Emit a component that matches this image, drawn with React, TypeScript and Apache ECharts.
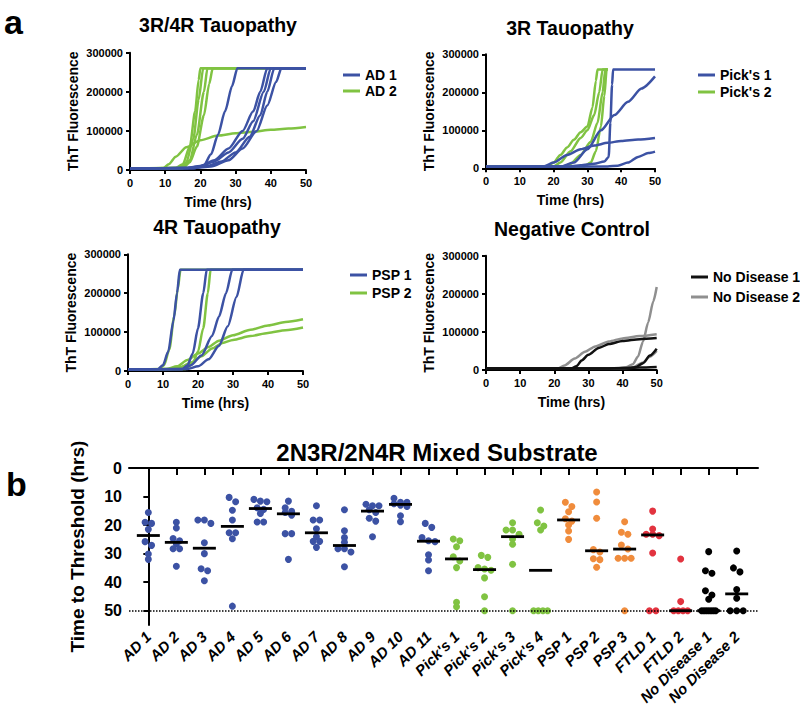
import React, { useEffect, useRef } from "react";
import * as echarts from "echarts";

const FONT = "'Liberation Sans', Arial, Helvetica, sans-serif";
const BLUE = "#3c52a4";
const GREEN = "#80c342";
const BLACK = "#111111";
const GRAY = "#8f8f8f";
const ORANGE = "#f08c3c";
const RED = "#e2333f";

// ---------- Panel a : ThT kinetics (time hrs, fluorescence) ----------
const AD1_CURVES: number[][][] = [
  [[0, 4000], [18, 4500], [21, 12000], [23, 40000], [25, 90000], [27, 150000], [29, 215000], [30.5, 260000], [50, 260000]],
  [[0, 4000], [16, 5000], [20, 10000], [24, 25000], [28, 55000], [32, 100000], [35, 150000], [37, 200000], [39, 260000], [50, 260000]],
  [[0, 4000], [16, 5000], [20, 9000], [24, 22000], [28, 45000], [32, 80000], [35, 125000], [38, 200000], [40, 260000], [50, 260000]],
  [[0, 4000], [18, 5000], [22, 10000], [26, 22000], [30, 45000], [34, 85000], [37, 140000], [39, 200000], [41, 260000], [50, 260000]],
  [[0, 4000], [18, 5000], [23, 9000], [28, 25000], [32, 55000], [36, 100000], [39, 165000], [41.5, 225000], [43, 260000], [50, 260000]],
];
const AD2_CURVES: number[][][] = [
  [[0, 4000], [13, 5000], [15, 15000], [17, 60000], [18.5, 150000], [19.5, 230000], [20, 260000], [50, 260000]],
  [[0, 4000], [14, 5000], [16, 20000], [18, 80000], [19.5, 180000], [20.8, 260000], [50, 260000]],
  [[0, 4000], [15, 5000], [17, 25000], [19, 90000], [21, 200000], [22, 260000], [50, 260000]],
  [[0, 4000], [15, 5000], [17, 20000], [19, 60000], [21, 140000], [22.5, 220000], [23.5, 260000], [50, 260000]],
  [[0, 4000], [9.5, 5000], [11, 15000], [13, 34000], [16, 58000], [20, 76000], [25, 88000], [30, 94000], [35, 98000], [40, 103000], [45, 106000], [50, 110000]],
];
const PICKS1_CURVES: number[][][] = [
  [[0, 4000], [24, 4500], [28, 8000], [32, 12000], [35, 18000], [36.3, 30000], [36.8, 120000], [37.3, 220000], [37.6, 260000], [50, 260000]],
  [[0, 4000], [22, 4500], [26, 15000], [30, 50000], [34, 100000], [38, 140000], [42, 175000], [46, 210000], [50, 242000]],
  [[0, 4000], [17, 5000], [20, 15000], [24, 35000], [28, 50000], [32, 60000], [36, 67000], [40, 72000], [45, 76000], [50, 80000]],
  [[0, 4000], [36, 4500], [39, 7000], [42, 15000], [45, 30000], [48, 40000], [50, 44000]],
];
const PICKS2_CURVES: number[][][] = [
  [[0, 4000], [18, 4500], [20, 15000], [22, 35000], [24, 55000], [26, 75000], [28, 95000], [30, 110000], [31.5, 160000], [32.5, 230000], [33, 260000], [36, 260000]],
  [[0, 4000], [20, 4500], [22, 15000], [25, 45000], [28, 80000], [30, 100000], [32, 140000], [33.5, 200000], [34.5, 260000], [36, 260000]],
  [[0, 4000], [23, 4500], [25, 12000], [28, 35000], [31, 70000], [33, 120000], [34.5, 200000], [35.3, 260000], [36, 260000]],
  [[0, 4000], [29, 4500], [31, 15000], [32.5, 45000], [34, 110000], [35, 190000], [35.7, 260000], [36, 260000]],
];
const PSP1_CURVES: number[][][] = [
  [[0, 4000], [8.5, 4500], [10, 15000], [11.5, 50000], [13, 130000], [14, 200000], [14.8, 260000], [50, 260000]],
  [[0, 4000], [15.5, 4500], [17, 15000], [18.5, 45000], [20, 110000], [21.5, 200000], [22.5, 260000], [50, 260000]],
  [[0, 4000], [15.5, 5000], [18, 15000], [21, 40000], [24, 90000], [26, 140000], [28, 200000], [29.8, 260000], [50, 260000]],
  [[0, 4000], [17, 5000], [20, 12000], [23, 30000], [26, 65000], [28.5, 115000], [31, 190000], [33, 260000], [50, 260000]],
];
const PSP2_CURVES: number[][][] = [
  [[0, 4000], [8.8, 4500], [10.3, 15000], [11.8, 55000], [13.2, 140000], [14.2, 210000], [15, 260000], [50, 260000]],
  [[0, 4000], [16.5, 5000], [18.5, 20000], [20, 50000], [21.5, 110000], [22.8, 200000], [23.6, 260000], [50, 260000]],
  [[0, 4000], [11, 5000], [14, 12000], [17, 28000], [20, 45000], [23, 62000], [26, 78000], [30, 92000], [35, 106000], [40, 117000], [45, 126000], [50, 133000]],
  [[0, 4000], [12, 5000], [15, 10000], [18, 22000], [21, 38000], [24, 58000], [27, 72000], [30, 80000], [35, 90000], [40, 98000], [45, 105000], [50, 112000]],
];
const ND1_CURVES: number[][][] = [
  [[0, 4000], [25, 4000], [26.5, 10000], [28, 25000], [30, 40000], [33, 58000], [36, 68000], [40, 76000], [45, 81000], [50, 84000]],
  [[0, 4000], [42, 4000], [44, 8000], [46, 18000], [48, 38000], [50, 56000]],
  [[0, 4000], [35, 4000], [40, 5000], [45, 6500], [50, 8000]],
];
const ND2_CURVES: number[][][] = [
  [[0, 4000], [21, 4000], [23, 12000], [26, 30000], [29, 48000], [32, 62000], [36, 75000], [40, 83000], [45, 89000], [50, 94000]],
  [[0, 4000], [38, 4000], [41, 7000], [43, 15000], [44.5, 35000], [46, 75000], [47.5, 125000], [49, 180000], [50, 218000]],
  [[0, 4000], [40, 4000], [43, 7000], [46, 20000], [48, 35000], [50, 50000]],
];

const TIME_TICKS = { min: 0, max: 50, interval: 10 };
const FLUOR_TICKS = { min: 0, max: 300000, interval: 100000 };

// ---------- Panel b : time to threshold ----------
const CATEGORIES = [
  "AD 1", "AD 2", "AD 3", "AD 4", "AD 5", "AD 6", "AD 7", "AD 8", "AD 9", "AD 10", "AD 11",
  "Pick's 1", "Pick's 2", "Pick's 3", "Pick's 4", "PSP 1", "PSP 2", "PSP 3",
  "FTLD 1", "FTLD 2", "No Disease 1", "No Disease 2",
];
const T_AD1 = [15.6, 19.0, 19.4, 21.5, 25.8, 27.1, 30.1, 32.0];
const T_AD2 = [19.0, 21.0, 24.7, 25.5, 26.6, 28.3, 28.3, 34.4];
const T_AD3 = [18.2, 18.2, 19.4, 26.2, 30.0, 35.3, 36.0, 39.5];
const T_AD4 = [10.3, 11.8, 14.8, 18.2, 22.7, 22.7, 24.8, 48.4];
const T_AD5 = [11.0, 11.6, 11.8, 13.9, 14.5, 15.9, 18.9, 18.9];
const T_AD6 = [11.6, 13.9, 15.2, 15.6, 16.5, 23.0, 23.0, 32.0];
const T_AD7 = [13.2, 18.2, 18.2, 21.3, 24.1, 25.7, 25.7, 27.8];
const T_AD8 = [14.6, 22.0, 24.4, 26.0, 28.3, 28.3, 29.4, 34.6];
const T_AD9 = [12.7, 13.2, 13.2, 14.6, 15.6, 17.6, 18.6, 24.1];
const T_AD10 = [10.6, 12.0, 12.0, 12.5, 13.0, 13.5, 16.7, 18.8];
const T_AD11 = [19.4, 20.8, 24.4, 25.5, 25.8, 30.4, 32.2, 36.0];
const T_PICKS1 = [24.9, 25.5, 27.6, 31.1, 32.6, 34.9, 47.0, 48.6];
const T_PICKS2 = [30.6, 31.3, 34.9, 35.4, 35.8, 38.5, 45.1, 50];
const T_PICKS3 = [19.2, 21.7, 21.7, 23.2, 24.9, 26.7, 33.7, 50];
const T_PICKS4 = [14.7, 19.2, 20.3, 21.7, 50, 50, 50, 50];
const T_PSP1 = [12.0, 13.5, 15.3, 17.8, 18.6, 20.0, 22.1, 25.0];
const T_PSP2 = [8.4, 11.9, 17.6, 28.6, 29.4, 31.8, 32.1, 34.8];
const T_PSP3 = [18.8, 22.5, 23.2, 27.0, 28.4, 31.6, 31.6, 31.6, 50];
const T_FTLD1 = [15.1, 21.4, 23.2, 23.2, 23.7, 29.8, 50, 50];
const T_FTLD2 = [31.9, 46.8, 50, 50, 50, 50];
const T_ND1 = [29.3, 36.0, 36.9, 43.0, 44.5, 46.0, 50, 50, 50, 50, 50, 50, 50];
const T_ND2 = [29.1, 35.0, 36.4, 42.6, 45.6, 50, 50, 50];
const THRESHOLD_CUTOFF = 50;
const THRESHOLD_TICKS = { min: 0, max: 55, interval: 10 };

const T_VALUES = [
  T_AD1, T_AD2, T_AD3, T_AD4, T_AD5, T_AD6, T_AD7, T_AD8, T_AD9, T_AD10, T_AD11,
  T_PICKS1, T_PICKS2, T_PICKS3, T_PICKS4, T_PSP1, T_PSP2, T_PSP3, T_FTLD1, T_FTLD2, T_ND1, T_ND2,
];
const GROUP_COLORS = CATEGORIES.map((c) =>
  c.startsWith("AD") ? BLUE : c.startsWith("Pick") ? GREEN : c.startsWith("PSP") ? ORANGE : c.startsWith("FTLD") ? RED : "#000000"
);

// ---------- layout ----------
const B_GRID = { left: 129, top: 468, width: 629, height: 157 };
const B_XMIN = -0.69;
const B_XMAX = 21.76;
const PX_X = B_GRID.width / (B_XMAX - B_XMIN);
const PX_Y = B_GRID.height / THRESHOLD_TICKS.max;
const DOT = 7;
const B_LABEL_GRID = {
  left: B_GRID.left + (0 - B_XMIN) * PX_X - PX_X / 2,
  top: B_GRID.top,
  width: PX_X * CATEGORIES.length,
  height: B_GRID.height,
};

function swarm(values: number[], idx: number): number[][] {
  const sorted = [...values].sort((a, b) => a - b);
  const bins: number[][] = [];
  for (const v of sorted) {
    const last = bins[bins.length - 1];
    if (last && (v - last[0]) * PX_Y < 4.5) last.push(v);
    else bins.push([v]);
  }
  const out: number[][] = [];
  for (const bin of bins) {
    const k = bin.length;
    const sp = k > 1 ? Math.min(6.5, 14 / (k - 1)) : 0;
    bin.forEach((v, i) => out.push([idx + ((i - (k - 1) / 2) * sp) / PX_X, v]));
  }
  return out;
}
function median(values: number[]): number {
  const s = [...values].sort((a, b) => a - b);
  const n = s.length;
  return n % 2 ? s[(n - 1) / 2] : (s[n / 2 - 1] + s[n / 2]) / 2;
}

const PANELS = [
  {
    title: "3R/4R Tauopathy", tx: 218, ty: 25,
    grid: { left: 130, top: 52.7, width: 176, height: 117.3 },
    legend: { left: 338, top: 63, gap: 2 },
    groups: [{ name: "AD 1", color: BLUE, curves: AD1_CURVES }, { name: "AD 2", color: GREEN, curves: AD2_CURVES }],
  },
  {
    title: "3R Tauopathy", tx: 570, ty: 27.7,
    grid: { left: 486, top: 54.3, width: 169, height: 114 },
    legend: { left: 693, top: 63, gap: 3 },
    groups: [{ name: "Pick's 1", color: BLUE, curves: PICKS1_CURVES }, { name: "Pick's 2", color: GREEN, curves: PICKS2_CURVES }],
  },
  {
    title: "4R Tauopathy", tx: 217, ty: 227,
    grid: { left: 128, top: 254.3, width: 175, height: 116.7 },
    legend: { left: 345, top: 263, gap: 4 },
    groups: [{ name: "PSP 1", color: BLUE, curves: PSP1_CURVES }, { name: "PSP 2", color: GREEN, curves: PSP2_CURVES }],
  },
  {
    title: "Negative Control", tx: 572, ty: 229,
    grid: { left: 486, top: 255.7, width: 170.7, height: 114.3 },
    legend: { left: 686, top: 265, gap: 6 },
    groups: [{ name: "No Disease 1", color: BLACK, curves: ND1_CURVES }, { name: "No Disease 2", color: GRAY, curves: ND2_CURVES }],
  },
];

function buildOption() {
  const bold = { fontFamily: FONT, fontWeight: "bold" as const, color: "#000" };
  const axisLine = { show: true, lineStyle: { color: "#000", width: 2 } };
  const grid: any[] = [];
  const xAxis: any[] = [];
  const yAxis: any[] = [];
  const series: any[] = [];
  const legend: any[] = [];
  const graphic: any[] = [];

  PANELS.forEach((p, i) => {
    grid.push({ ...p.grid });
    xAxis.push({
      type: "value", gridIndex: i, ...TIME_TICKS,
      name: "Time (hrs)", nameLocation: "middle", nameGap: 25,
      nameTextStyle: { ...bold, fontSize: 14 },
      axisLine, axisTick: { show: true, length: 4, lineStyle: { width: 2, color: "#000" } },
      axisLabel: { ...bold, fontSize: 11, margin: 7 }, splitLine: { show: false },
    });
    yAxis.push({
      type: "value", gridIndex: i, ...FLUOR_TICKS,
      name: "ThT Fluorescence", nameLocation: "middle", nameRotate: 90, nameGap: 50,
      nameTextStyle: { ...bold, fontSize: 14 },
      axisLine, axisTick: { show: true, length: 4, lineStyle: { width: 2, color: "#000" } },
      axisLabel: { ...bold, fontSize: 11, margin: 7, formatter: (v: number) => String(v) },
      splitLine: { show: false },
    });
    [...p.groups].reverse().forEach((g) => {
      g.curves.forEach((c) => {
        series.push({
          type: "line", name: g.name, xAxisIndex: i, yAxisIndex: i, data: c,
          showSymbol: false, symbol: "none", smooth: 0.25, smoothMonotone: "x",
          color: g.color, lineStyle: { color: g.color, width: 2.5 }, itemStyle: { color: g.color },
          silent: true,
        });
      });
    });
    legend.push({
      data: p.groups.map((g) => g.name), orient: "vertical", left: p.legend.left, top: p.legend.top,
      itemGap: p.legend.gap, itemWidth: 17, itemHeight: 3, icon: "rect", selectedMode: false,
      textStyle: { ...bold, fontSize: 14 },
    });
    graphic.push({
      type: "text", x: p.tx, y: p.ty,
      style: { text: p.title, font: `bold 19.5px ${FONT}`, fill: "#000", textAlign: "center", textVerticalAlign: "middle" },
    });
  });

  // Panel b frame grid (index 4) and label grid (index 5)
  grid.push({ ...B_GRID });
  grid.push({ ...B_LABEL_GRID });
  xAxis.push({
    type: "value", gridIndex: 4, min: B_XMIN, max: B_XMAX,
    axisLine, axisTick: { show: false }, axisLabel: { show: false }, splitLine: { show: false },
  });
  xAxis.push({
    type: "category", gridIndex: 5, data: CATEGORIES, boundaryGap: true,
    axisLine: { show: false },
    axisTick: { show: true, alignWithLabel: true, length: 7, lineStyle: { width: 2, color: "#000" } },
    axisLabel: { ...bold, fontStyle: "italic", fontSize: 15, rotate: 45, interval: 0, margin: 9 },
  });
  yAxis.push({
    type: "value", gridIndex: 4, inverse: true, ...THRESHOLD_TICKS,
    name: "Time to Threshold (hrs)", nameLocation: "middle", nameRotate: 90, nameGap: 42,
    nameTextStyle: { ...bold, fontSize: 19 },
    axisLine, axisTick: { show: true, length: 5, lineStyle: { width: 2, color: "#000" } },
    axisLabel: {
      ...bold, fontSize: 16, margin: 7, showMaxLabel: false,
      formatter: (v: number) => (v % 10 === 0 ? String(v) : ""),
    },
    splitLine: { show: false },
  });
  yAxis.push({ type: "value", gridIndex: 5, inverse: true, ...THRESHOLD_TICKS, show: false });

  series.push({
    type: "line", xAxisIndex: 4, yAxisIndex: 4, data: [], silent: true, z: 1,
    markLine: {
      symbol: "none", silent: true, label: { show: false },
      lineStyle: { type: "dotted", color: "#000", width: 1.5 },
      data: [{ yAxis: THRESHOLD_CUTOFF }],
    },
  });
  T_VALUES.forEach((vals, i) => {
    series.push({
      type: "scatter", xAxisIndex: 4, yAxisIndex: 4, data: swarm(vals, i),
      symbol: "circle", symbolSize: DOT, itemStyle: { color: GROUP_COLORS[i], opacity: 1 }, z: 3, silent: true,
    });
  });
  series.push({
    type: "scatter", xAxisIndex: 4, yAxisIndex: 4,
    data: T_VALUES.map((vals, i) => [i, median(vals)]),
    symbol: "rect", symbolSize: [23, 2.8], itemStyle: { color: "#000", opacity: 1 }, z: 4, silent: true,
  });

  graphic.push({
    type: "text", x: 4, y: 21.5,
    style: { text: "a", font: `bold 34px ${FONT}`, fill: "#000", textAlign: "left", textVerticalAlign: "middle" },
  });
  graphic.push({
    type: "text", x: 6, y: 483.5,
    style: { text: "b", font: `bold 34px ${FONT}`, fill: "#000", textAlign: "left", textVerticalAlign: "middle" },
  });
  graphic.push({
    type: "text", x: 437, y: 452,
    style: { text: "2N3R/2N4R Mixed Substrate", font: `bold 24px ${FONT}`, fill: "#000", textAlign: "center", textVerticalAlign: "middle" },
  });

  return {
    animation: false,
    backgroundColor: "#ffffff",
    textStyle: { fontFamily: FONT },
    grid, xAxis, yAxis, series, legend, graphic,
  };
}

export default function App() {
  const ref = useRef<HTMLDivElement>(null);
  useEffect(() => {
    if (!ref.current) return;
    const chart = echarts.init(ref.current, null, { renderer: "svg" });
    chart.setOption(buildOption() as any);
    return () => chart.dispose();
  }, []);
  return <div ref={ref} style={{ position: "fixed", left: 0, top: 0, width: 800, height: 715, background: "#fff" }} />;
}
